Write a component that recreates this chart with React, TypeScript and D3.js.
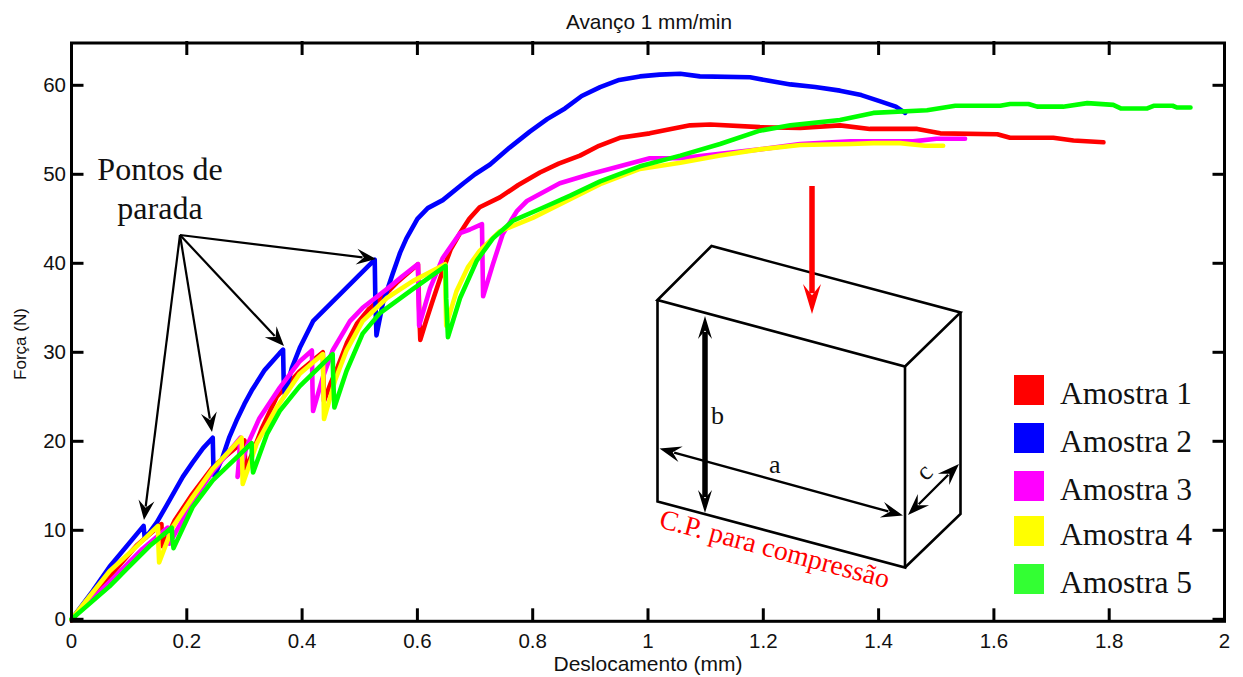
import React from 'react';
import * as d3 from 'd3';

const WIDTH = 1243;
const HEIGHT = 677;

const SANS = '"Liberation Sans", Arial, sans-serif';
const SERIF = '"Liberation Serif", "Times New Roman", serif';

// values: deslocamento (mm) / forca (N)
const amostra1X = [0, 0.066, 0.113, 0.156, 0.157, 0.158, 0.179, 0.21, 0.245, 0.3, 0.301, 0.303, 0.33, 0.356, 0.395, 0.436, 0.437, 0.438, 0.45, 0.462, 0.478, 0.495, 0.515, 0.535, 0.564, 0.601, 0.603, 0.605, 0.615, 0.625, 0.644, 0.658, 0.674, 0.69, 0.708, 0.743, 0.775, 0.8125, 0.845, 0.882, 0.915, 0.951, 1.003, 1.04, 1.073, 1.108, 1.194, 1.264, 1.333, 1.385, 1.467, 1.507, 1.606, 1.628, 1.703, 1.738, 1.79];
const amostra1Y = [-0.1, 4.8, 8.3, 10.7, 9, 8.2, 11.1, 14.1, 17.1, 20.1, 18, 16.9, 21.4, 25, 27.8, 30, 27, 24.5, 26.6, 28.4, 31.1, 33.2, 34.8, 35.9, 37.8, 39.9, 35, 31.4, 33.5, 35.5, 39.2, 41.6, 43.4, 45, 46.3, 47.4, 48.8, 50.2, 51.2, 52.1, 53.2, 54.1, 54.6, 55.1, 55.5, 55.6, 55.3, 55.2, 55.5, 55.1, 55.1, 54.6, 54.5, 54.1, 54.1, 53.8, 53.6];

const amostra2X = [0, 0.037, 0.066, 0.125, 0.127, 0.129, 0.148, 0.165, 0.193, 0.21, 0.228, 0.245, 0.246, 0.248, 0.262, 0.274, 0.286, 0.3, 0.3125, 0.335, 0.361, 0.367, 0.368, 0.37, 0.382, 0.396, 0.419, 0.526, 0.527, 0.529, 0.54, 0.557, 0.57, 0.581, 0.6, 0.618, 0.644, 0.68, 0.7, 0.726, 0.76, 0.795, 0.825, 0.856, 0.885, 0.917, 0.95, 0.986, 1.02, 1.056, 1.09, 1.177, 1.21, 1.247, 1.29, 1.333, 1.37, 1.403, 1.43, 1.446];
const amostra2Y = [0, 3.2, 5.9, 10.5, 9.2, 9.2, 10.9, 12.8, 16, 17.6, 19.2, 20.4, 17.5, 16.1, 18.2, 20.5, 22.3, 24.2, 25.7, 28, 29.9, 30.3, 27, 25.3, 28.2, 30.5, 33.5, 40.4, 36, 31.9, 35.5, 38.8, 41.2, 42.8, 45, 46.2, 47.1, 49, 50, 51.1, 53, 54.8, 56.2, 57.4, 58.8, 59.8, 60.6, 61, 61.2, 61.3, 61, 60.9, 60.5, 60.1, 59.8, 59.4, 58.9, 58.2, 57.6, 56.9];

const amostra3X = [0, 0.066, 0.123, 0.167, 0.168, 0.17, 0.21, 0.245, 0.293, 0.29, 0.288, 0.305, 0.326, 0.361, 0.396, 0.417, 0.418, 0.419, 0.436, 0.453, 0.483, 0.505, 0.547, 0.575, 0.601, 0.602, 0.603, 0.622, 0.644, 0.674, 0.691, 0.712, 0.713, 0.714, 0.731, 0.748, 0.773, 0.79, 0.847, 0.899, 0.951, 1.003, 1.056, 1.125, 1.194, 1.264, 1.351, 1.46, 1.5, 1.55];
const amostra3Y = [0, 4.2, 7.9, 10.3, 9.4, 8.5, 13.2, 16.6, 20.4, 17.5, 16, 19.6, 22.6, 26, 29, 30.2, 26, 23.4, 27.2, 30.2, 33.5, 35, 37.1, 38.6, 39.9, 36, 33, 37.2, 40.6, 43.4, 43.8, 44.4, 40, 36.3, 39.9, 43.3, 45.9, 47, 49, 50, 50.9, 51.8, 51.8, 52.3, 52.8, 53.4, 53.7, 53.7, 54, 54];

const amostra4X = [0, 0.066, 0.113, 0.15, 0.151, 0.152, 0.175, 0.21, 0.245, 0.295, 0.296, 0.297, 0.321, 0.356, 0.396, 0.436, 0.437, 0.438, 0.457, 0.477, 0.505, 0.547, 0.592, 0.648, 0.649, 0.65, 0.668, 0.688, 0.708, 0.743, 0.8, 0.865, 0.917, 0.986, 1.056, 1.125, 1.194, 1.264, 1.351, 1.391, 1.4375, 1.481, 1.512];
const amostra4Y = [0, 5.4, 8.2, 10.5, 8, 6.4, 10.3, 13.7, 16.9, 20.4, 18, 15.2, 19.7, 23.8, 27.6, 29.8, 26, 22.5, 26.8, 30.2, 33.5, 36.1, 38, 39.9, 36, 33, 36.9, 39.6, 41.4, 43.6, 45.1, 47.2, 48.9, 50.6, 51.3, 52.1, 52.8, 53.3, 53.4, 53.5, 53.5, 53.2, 53.2];

const amostra5X = [0, 0.066, 0.095, 0.135, 0.174, 0.175, 0.177, 0.21, 0.245, 0.3125, 0.313, 0.315, 0.339, 0.361, 0.396, 0.453, 0.454, 0.456, 0.477, 0.505, 0.535, 0.592, 0.649, 0.65, 0.653, 0.674, 0.703, 0.731, 0.766, 0.8125, 0.865, 0.917, 0.986, 1.056, 1.125, 1.194, 1.247, 1.333, 1.391, 1.484, 1.533, 1.611, 1.628, 1.66, 1.675, 1.72, 1.762, 1.807, 1.82, 1.866, 1.877, 1.91, 1.918, 1.941];
const amostra5Y = [0, 3.7, 5.6, 8.2, 10.3, 9, 8, 12.6, 15.6, 19.8, 18, 16.5, 20.8, 23.4, 26.2, 29.8, 27, 23.8, 27.9, 32.1, 34.4, 37.1, 39.7, 36, 31.7, 36.1, 40.3, 42.8, 44.8, 46.1, 47.6, 49.2, 50.9, 52.1, 53.4, 54.9, 55.5, 56.1, 56.9, 57.2, 57.7, 57.7, 57.9, 57.9, 57.6, 57.6, 58, 57.8, 57.4, 57.4, 57.7, 57.7, 57.5, 57.5];

const seriesNames = ['Amostra 1', 'Amostra 2', 'Amostra 3', 'Amostra 4', 'Amostra 5'];
const seriesColors = ['#ff0000', '#0000ff', '#ff00ff', '#ffff00', '#00ff00'];
const legendColors = ['#ff0000', '#0000ff', '#ff00ff', '#ffff00', '#33ff33'];
const seriesX = [amostra1X, amostra2X, amostra3X, amostra4X, amostra5X];
const seriesY = [amostra1Y, amostra2Y, amostra3Y, amostra4Y, amostra5Y];

const xTicks = [0, 0.2, 0.4, 0.6, 0.8, 1, 1.2, 1.4, 1.6, 1.8, 2];
const yTicks = [0, 10, 20, 30, 40, 50, 60];

const x = d3.scaleLinear().domain([0, 2]).range([71.5, 1224.5]);
const y = d3.scaleLinear().domain([0, 60]).range([619.3, 85.3]);

// the specimen drawing, in page pixels
const boxLines = [
  'M657.5 300 L711.5 246 L960.5 312.5 L905 366.5 Z',
  'M657.5 300 V501.5 L905 567.5 V366.5',
  'M960.5 312.5 V514 L905 567.5',
];

function arrowHead(tx: number, ty: number, fx: number, fy: number, len: number, half: number) {
  // barbed head with its tip at (tx, ty), pointing away from (fx, fy)
  const a = Math.atan2(ty - fy, tx - fx);
  const c = Math.cos(a);
  const s = Math.sin(a);
  const px = (l: number, w: number) => `${tx - l * c - w * s} ${ty - l * s + w * c}`;
  return `M${tx} ${ty} L${px(len * 1.15, half)} L${px(len * 0.72, 0)} L${px(len * 1.15, -half)} Z`;
}

function Arrow({ from, to, width = 2.2, len = 17, half = 8, both = false, color = '#000' }: any) {
  // the shaft stops inside the head so the tip stays sharp
  const dist = Math.hypot(to[0] - from[0], to[1] - from[1]);
  const ux = (to[0] - from[0]) / dist;
  const uy = (to[1] - from[1]) / dist;
  const back = len * 0.8;
  const startCut = both ? back : 0;
  return (
    <g>
      <line
        x1={from[0] + ux * startCut}
        y1={from[1] + uy * startCut}
        x2={to[0] - ux * back}
        y2={to[1] - uy * back}
        stroke={color}
        strokeWidth={width}
      />
      <path d={arrowHead(to[0], to[1], from[0], from[1], len, half)} fill={color} />
      {both && <path d={arrowHead(from[0], from[1], to[0], to[1], len, half)} fill={color} />}
    </g>
  );
}

export default function App() {
  const [x0, x1] = x.range();
  const top = 43;
  const bottom = 621.3;

  return (
    <svg
      xmlns="http://www.w3.org/2000/svg"
      width={WIDTH}
      height={HEIGHT}
      viewBox={`0 0 ${WIDTH} ${HEIGHT}`}
      style={{ position: 'absolute', left: 0, top: 0, background: '#fff' }}
    >
      {/* curves */}
      <g fill="none" strokeWidth={4.6} strokeLinejoin="round" strokeLinecap="round">
        {seriesNames.map((name, k) => {
          const path = d3.line<number>()
            .x(d => x(d))
            .y((d, i) => y(seriesY[k][i]))(seriesX[k]);
          return <path key={name} d={path || ''} stroke={seriesColors[k]} />;
        })}
      </g>

      {/* frame and ticks */}
      <rect x={x0} y={top} width={x1 - x0} height={bottom - top} fill="none" stroke="#000" strokeWidth={3} />
      <g stroke="#000" strokeWidth={3}>
        {xTicks.slice(1, -1).map(t => (
          <g key={t}>
            <line x1={x(t)} x2={x(t)} y1={bottom} y2={bottom - 13} />
            <line x1={x(t)} x2={x(t)} y1={top - 2} y2={top + 12} />
          </g>
        ))}
        {yTicks.map(t => (
          <g key={t}>
            <line x1={x0} x2={x0 + 12} y1={y(t)} y2={y(t)} />
            <line x1={x1} x2={x1 - 12} y1={y(t)} y2={y(t)} />
          </g>
        ))}
      </g>

      {/* tick labels */}
      <g fontFamily={SANS} fontSize={20.5} fill="#111">
        {xTicks.map(t => (
          <text key={t} x={x(t)} y={648} textAnchor="middle">{d3.format('~g')(t)}</text>
        ))}
        {yTicks.map(t => (
          <text key={t} x={66} y={y(t) + 7} textAnchor="end">{t}</text>
        ))}
      </g>

      {/* axis titles */}
      <g fontFamily={SANS} fill="#111">
        <text x={649} y={29} fontSize={20.8} textAnchor="middle">Avanço 1 mm/min</text>
        <text x={648} y={671} fontSize={21} textAnchor="middle">Deslocamento (mm)</text>
        <text transform="translate(26 344) rotate(-90)" fontSize={17} textAnchor="middle">Força (N)</text>
      </g>

      {/* stop point callout */}
      <g fontFamily={SERIF} fontSize={32} fill="#111" textAnchor="middle">
        <text x={160} y={180}>Pontos de</text>
        <text x={160} y={219}>parada</text>
      </g>
      <Arrow from={[180, 235]} to={[144, 520]} />
      <Arrow from={[180, 235]} to={[212, 432]} />
      <Arrow from={[180, 235]} to={[284, 346]} />
      <Arrow from={[180, 235]} to={[376, 259]} />

      {/* specimen */}
      <g fill="none" stroke="#000" strokeWidth={2.6} strokeLinejoin="miter">
        {boxLines.map(d => <path key={d} d={d} />)}
      </g>
      <Arrow from={[812, 186]} to={[812, 314]} width={5.5} len={26} half={9} color="#ff0000" />
      <Arrow from={[705, 316]} to={[705, 513]} width={5.5} len={20} half={7} both />
      <Arrow from={[659.5, 448.5]} to={[903, 515.5]} width={2.4} len={19} both />
      <Arrow from={[908, 515]} to={[959, 464]} width={2.4} len={19} both />
      <g fontFamily={SERIF} fontSize={26} fill="#111">
        <text x={711} y={424}>b</text>
        <text x={769} y={473}>a</text>
        <text transform="translate(930 478) rotate(-45)" textAnchor="middle">c</text>
      </g>
      <text
        transform="translate(658 527) rotate(15)"
        fontFamily={SERIF}
        fontSize={27.7}
        fill="#ff0000"
      >
        C.P. para compressão
      </text>

      {/* legend */}
      {seriesNames.map((name, k) => {
        const tops = [375, 423, 471, 516, 564];
        return (
          <g key={name}>
            <rect x={1014} y={tops[k]} width={30} height={30} fill={legendColors[k]} />
            <text x={1060} y={tops[k] + 29} fontFamily={SERIF} fontSize={31.5} fill="#111">{name}</text>
          </g>
        );
      })}
    </svg>
  );
}
